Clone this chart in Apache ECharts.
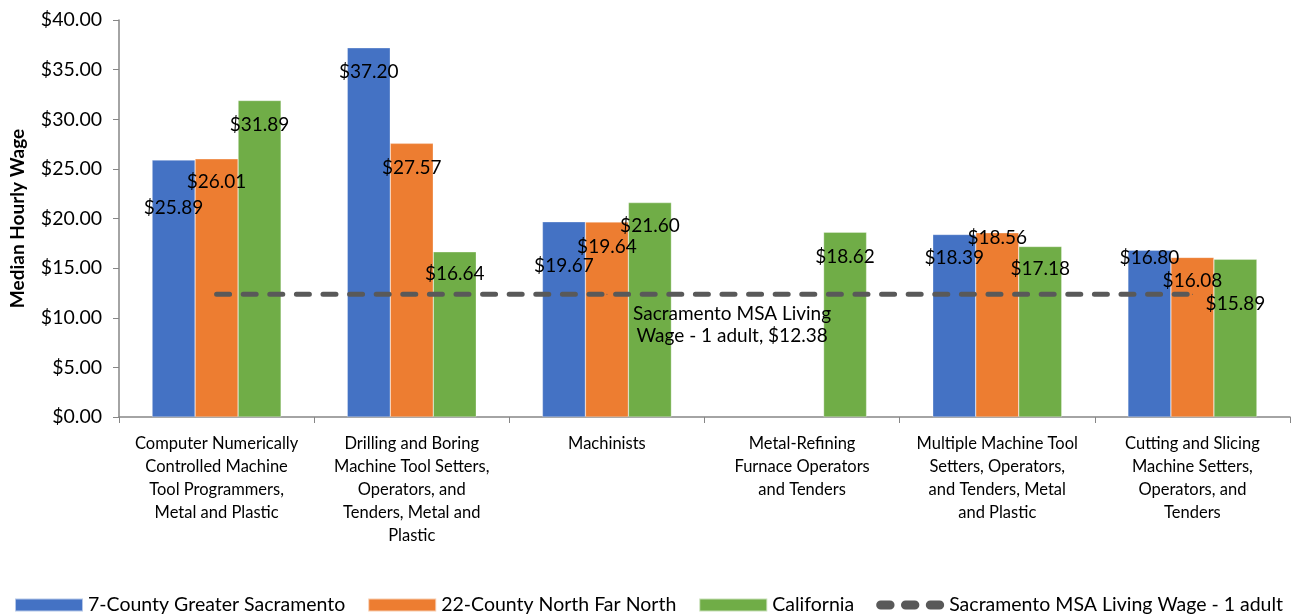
<!DOCTYPE html>
<html>
<head>
<meta charset="utf-8">
<script src="https://cdn.jsdelivr.net/npm/echarts@6/dist/echarts.min.js"></script>
<style>
html,body{margin:0;padding:0;background:#fff;}
#chart{width:1304px;height:616px;}
</style>
</head>
<body>
<div id="chart"></div>
<script>
const categories = [
  "Computer Numerically Controlled Machine Tool Programmers, Metal and Plastic",
  "Drilling and Boring Machine Tool Setters, Operators, and Tenders, Metal and Plastic",
  "Machinists",
  "Metal-Refining Furnace Operators and Tenders",
  "Multiple Machine Tool Setters, Operators, and Tenders, Metal and Plastic",
  "Cutting and Slicing Machine Setters, Operators, and Tenders"
];
const tickLabels = [
  "Computer Numerically\nControlled Machine\nTool Programmers,\nMetal and Plastic",
  "Drilling and Boring\nMachine Tool Setters,\nOperators, and\nTenders, Metal and\nPlastic",
  "Machinists",
  "Metal-Refining\nFurnace Operators\nand Tenders",
  "Multiple Machine Tool\nSetters, Operators,\nand Tenders, Metal\nand Plastic",
  "Cutting and Slicing\nMachine Setters,\nOperators, and\nTenders"
];
const seriesNames = ["7-County Greater Sacramento", "22-County North Far North", "California", "Sacramento MSA Living Wage - 1 adult"];
const greaterSacramento = [25.89, 37.20, 19.67, null, 18.39, 16.80];
const northFarNorth = [26.01, 27.57, 19.64, null, 18.56, 16.08];
const california = [31.89, 16.64, 21.60, 18.62, 17.18, 15.89];
const livingWage = 12.38;
const livingWageLabel = "Sacramento MSA Living\nWage - 1 adult, $12.38";
const yTicks = { min: 0, max: 40, interval: 5 };

// label styling: how far (px) below the bar top each value label sits, as in the original layout
const labelDrop = [
  [48, 25, 45, 0, 24, 8],
  [24, 25, 25, 0, 6, 24],
  [25, 23, 24, 25, 23, 45]
];

const FONT = "Lato";
const colors = ["#4472C4", "#ED7D31", "#70AD47", "#595959"];

function barSeries(idx, data) {
  return {
    name: seriesNames[idx],
    type: "bar",
    data: data.map((v, i) => ({
      value: v,
      label: { offset: [0, labelDrop[idx][i] - 10] }
    })),
    barWidth: 43,
    barGap: "0%",
    itemStyle: { color: colors[idx], borderColor: "rgba(255,255,255,0.6)", borderWidth: 0.5 },
    label: {
      show: true,
      position: "insideTop",
      distance: 0,
      color: "#000",
      fontFamily: FONT,
      fontSize: 19,
      formatter: p => p.value == null ? "" : "$" + p.value.toFixed(2)
    },
    z: 2
  };
}

const lineData = categories.map((c, i) => {
  if (i === 3) {
    return {
      value: livingWage,
      label: {
        show: true,
        position: "bottom",
        distance: 0,
        offset: [-70, 8],
        formatter: livingWageLabel,
        color: "#000",
        fontFamily: FONT,
        fontSize: 19,
        lineHeight: 22,
        align: "center"
      }
    };
  }
  return livingWage;
});

const dashIcon = "path://M5,0h10a5,5 0 0 1 0,10h-10a5,5 0 0 1 0,-10z M32,0h10a5,5 0 0 1 0,10h-10a5,5 0 0 1 0,-10z M59,0h10a5,5 0 0 1 0,10h-10a5,5 0 0 1 0,-10z";

const chart = echarts.init(document.getElementById("chart"), null, { renderer: "canvas" });
chart.setOption({
  animation: false,
  backgroundColor: "#fff",
  textStyle: { fontFamily: FONT },
  grid: { left: 119, right: 14, top: 20, bottom: 199, containLabel: false },
  legend: {
    top: 590,
    left: 9,
    itemWidth: 68,
    itemHeight: 13,
    itemGap: 22,
    textStyle: { fontFamily: FONT, fontSize: 19.5, color: "#000" },
    data: [
      { name: seriesNames[0], icon: "rect" },
      { name: seriesNames[1], icon: "rect" },
      { name: seriesNames[2], icon: "rect" },
      { name: seriesNames[3], icon: dashIcon, itemStyle: { color: colors[3], opacity: 1 } }
    ]
  },
  xAxis: {
    type: "category",
    data: categories,
    axisLine: { lineStyle: { color: "#868686", width: 1.5 } },
    axisTick: { show: true, length: 6, lineStyle: { color: "#868686" } },
    axisLabel: {
      interval: 0,
      margin: 15,
      color: "#000",
      fontFamily: FONT,
      fontSize: 16.5,
      lineHeight: 23,
      formatter: (v, i) => tickLabels[i]
    }
  },
  yAxis: {
    type: "value",
    min: yTicks.min,
    max: yTicks.max,
    interval: yTicks.interval,
    name: "Median Hourly Wage",
    nameLocation: "middle",
    nameGap: 92,
    nameTextStyle: { fontFamily: FONT, fontSize: 19, fontWeight: "bold", color: "#000" },
    axisLine: { show: true, lineStyle: { color: "#868686", width: 1.5 } },
    axisTick: { show: true, length: 6, lineStyle: { color: "#868686" } },
    splitLine: { show: false },
    axisLabel: {
      color: "#000",
      fontFamily: FONT,
      fontSize: 19.5,
      margin: 17,
      formatter: v => "$" + v.toFixed(2)
    }
  },
  series: [
    barSeries(0, greaterSacramento),
    barSeries(1, northFarNorth),
    barSeries(2, california),
    {
      name: seriesNames[3],
      type: "line",
      data: lineData,
      symbol: "circle",
      symbolSize: 1,
      showSymbol: true,
      itemStyle: { color: colors[3] },
      color: colors[3],
      lineStyle: { color: colors[3], width: 5, type: [13, 13.6], cap: "round" },
      z: 5
    }
  ]
});
</script>
</body>
</html>
